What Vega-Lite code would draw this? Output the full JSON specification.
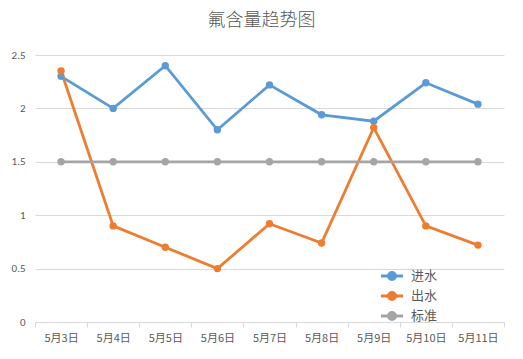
{
  "$schema": "https://vega.github.io/schema/vega-lite/v6.json",
  "autosize": {"type": "none"},
  "width": 469,
  "height": 267,
  "padding": {"left": 35, "top": 55, "right": 19, "bottom": 37},
  "background": "white",
  "title": {
    "text": "氟含量趋势图",
    "font": "Noto Sans CJK SC",
    "fontSize": 18,
    "fontWeight": 300,
    "color": "#595959",
    "anchor": "middle",
    "offset": 19,
    "dx": -8
  },
  "data": {
    "values": [
      {"date": "5月3日", "series": "进水", "value": 2.30},
      {"date": "5月4日", "series": "进水", "value": 2.00},
      {"date": "5月5日", "series": "进水", "value": 2.40},
      {"date": "5月6日", "series": "进水", "value": 1.80},
      {"date": "5月7日", "series": "进水", "value": 2.22},
      {"date": "5月8日", "series": "进水", "value": 1.94},
      {"date": "5月9日", "series": "进水", "value": 1.88},
      {"date": "5月10日", "series": "进水", "value": 2.24},
      {"date": "5月11日", "series": "进水", "value": 2.04},
      {"date": "5月3日", "series": "出水", "value": 2.35},
      {"date": "5月4日", "series": "出水", "value": 0.90},
      {"date": "5月5日", "series": "出水", "value": 0.70},
      {"date": "5月6日", "series": "出水", "value": 0.50},
      {"date": "5月7日", "series": "出水", "value": 0.92},
      {"date": "5月8日", "series": "出水", "value": 0.74},
      {"date": "5月9日", "series": "出水", "value": 1.82},
      {"date": "5月10日", "series": "出水", "value": 0.90},
      {"date": "5月11日", "series": "出水", "value": 0.72},
      {"date": "5月3日", "series": "标准", "value": 1.5},
      {"date": "5月4日", "series": "标准", "value": 1.5},
      {"date": "5月5日", "series": "标准", "value": 1.5},
      {"date": "5月6日", "series": "标准", "value": 1.5},
      {"date": "5月7日", "series": "标准", "value": 1.5},
      {"date": "5月8日", "series": "标准", "value": 1.5},
      {"date": "5月9日", "series": "标准", "value": 1.5},
      {"date": "5月10日", "series": "标准", "value": 1.5},
      {"date": "5月11日", "series": "标准", "value": 1.5}
    ]
  },
  "mark": {"type": "line", "strokeWidth": 2.8, "point": {"filled": true, "size": 55}},
  "encoding": {
    "x": {
      "field": "date",
      "type": "nominal",
      "sort": null,
      "scale": {"paddingInner": 0, "paddingOuter": 0},
      "axis": {
        "title": null,
        "labelAngle": 0,
        "labelFont": "Noto Sans CJK SC",
        "labelFontSize": 11,
        "labelColor": "#595959",
        "labelPadding": 5,
        "domainColor": "#d9d9d9",
        "tickColor": "#d9d9d9",
        "tickBand": "extent",
        "tickSize": 5,
        "grid": false
      }
    },
    "y": {
      "field": "value",
      "type": "quantitative",
      "scale": {"domain": [0, 2.5]},
      "axis": {
        "title": null,
        "values": [0, 0.5, 1, 1.5, 2, 2.5],
        "format": "~g",
        "labelFont": "Calibri, Liberation Sans, sans-serif",
        "labelFontSize": 11,
        "labelColor": "#595959",
        "labelPadding": 10,
        "domain": false,
        "ticks": false,
        "gridColor": "#d9d9d9",
        "gridWidth": 1
      }
    },
    "color": {
      "field": "series",
      "type": "nominal",
      "sort": ["进水", "出水", "标准"],
      "scale": {"domain": ["进水", "出水", "标准"], "range": ["#5b9bd5", "#ed7d31", "#a5a5a5"]},
      "legend": {
        "title": null,
        "orient": "none",
        "legendX": 347,
        "legendY": 211,
        "symbolType": "M-1.3,0L1.3,0M-0.42,0A0.42,0.42 0 1,0 0.42,0A0.42,0.42 0 1,0 -0.42,0",
        "symbolSize": 290,
        "symbolStrokeWidth": 2.8,
        "rowPadding": 0,
        "labelFont": "Noto Sans CJK SC",
        "labelFontSize": 13,
        "labelColor": "#595959",
        "labelOffset": 9
      }
    }
  },
  "config": {
    "view": {"stroke": null}
  }
}
